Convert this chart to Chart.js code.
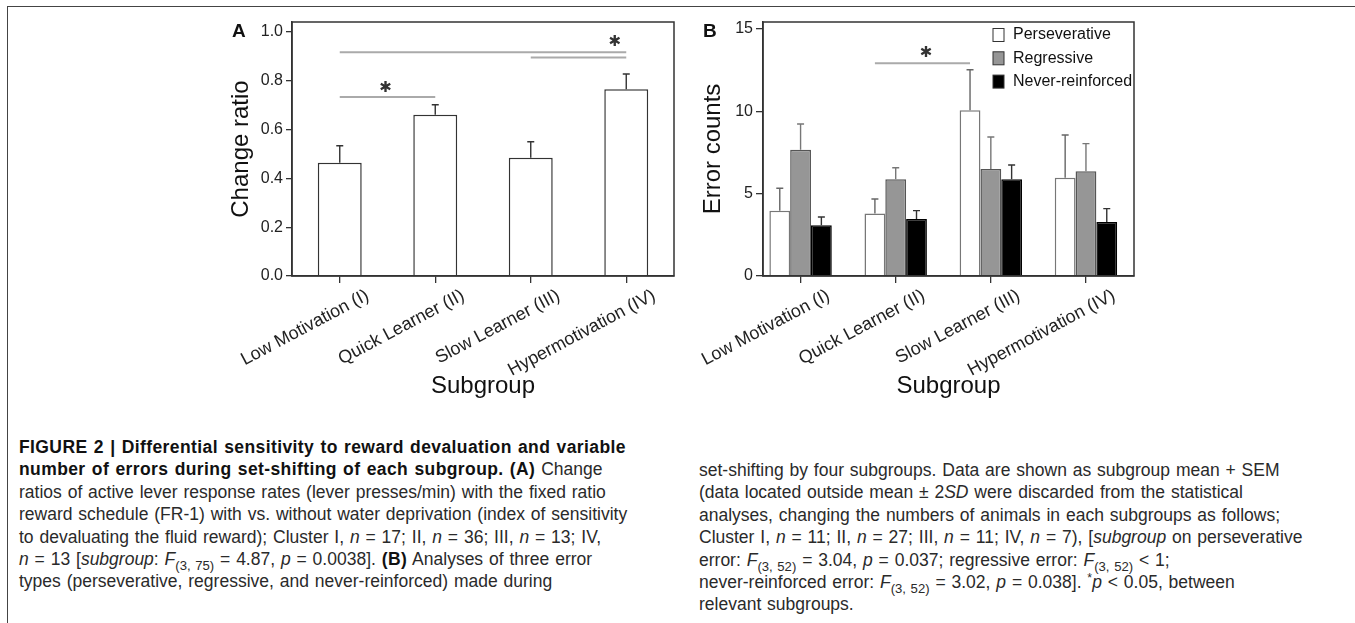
<!DOCTYPE html>
<html>
<head>
<meta charset="utf-8">
<script src="https://cdn.jsdelivr.net/npm/chart.js@4.4.1/dist/chart.umd.min.js"></script>
<style>
  body { margin: 0; background: #fff; width: 1355px; height: 623px; overflow: hidden; position: relative;
         font-family: "Liberation Sans", Arial, sans-serif; }
  .frame { position: absolute; left: 7px; top: 6px; right: 0; bottom: 0;
           border-top: 1.5px solid #444; border-left: 1.5px solid #444; }
  #chartA { position: absolute; left: 0; top: 0; }
  #chartB { position: absolute; left: 690px; top: 0; }
  .cap { position: absolute; font-size: 17.5px; line-height: 22.4px; word-spacing: 1px;
         color: #2a2a2a; white-space: nowrap; }
  .cap b { color: #111; letter-spacing: 0.4px; }
  sub { font-size: 0.75em; line-height: 0; vertical-align: -0.35em; }
  sup { font-size: 0.7em; line-height: 0; vertical-align: 0.5em; }
</style>
</head>
<body>
<div class="frame"></div>
<canvas id="chartA" width="690" height="430"></canvas>
<canvas id="chartB" width="665" height="430"></canvas>

<div class="cap" style="left:19px; top:436px;">
<b>FIGURE 2 | Differential sensitivity to reward devaluation and variable</b><br>
<b>number of errors during set-shifting of each subgroup. (A)</b> Change<br>
ratios of active lever response rates (lever presses/min) with the fixed ratio<br>
reward schedule (FR-1) with vs. without water deprivation (index of sensitivity<br>
to devaluating the fluid reward); Cluster I, <i>n</i> = 17; II, <i>n</i> = 36; III, <i>n</i> = 13; IV,<br>
<i>n</i> = 13 [<i>subgroup</i>: <i>F</i><sub>(3, 75)</sub> = 4.87, <i>p</i> = 0.0038]. <b>(B)</b> Analyses of three error<br>
types (perseverative, regressive, and never-reinforced) made during
</div>
<div class="cap" style="left:699px; top:459px;">
set-shifting by four subgroups. Data are shown as subgroup mean + SEM<br>
(data located outside mean ± 2<i>SD</i> were discarded from the statistical<br>
analyses, changing the numbers of animals in each subgroups as follows;<br>
Cluster I, <i>n</i> = 11; II, <i>n</i> = 27; III, <i>n</i> = 11; IV, <i>n</i> = 7), [<i>subgroup</i> on perseverative<br>
error: <i>F</i><sub>(3, 52)</sub> = 3.04, <i>p</i> = 0.037; regressive error: <i>F</i><sub>(3, 52)</sub> &lt; 1;<br>
never-reinforced error: <i>F</i><sub>(3, 52)</sub> = 3.02, <i>p</i> = 0.038]. <sup>*</sup><i>p</i> &lt; 0.05, between<br>
relevant subgroups.
</div>

<script>
  Chart.defaults.font.family = '"Liberation Sans", Arial, sans-serif';

  const groups = ['Low Motivation (I)', 'Quick Learner (II)', 'Slow Learner (III)', 'Hypermotivation (IV)'];

  // panel A: change ratio, mean + SEM
  const ratioMean = [0.464, 0.661, 0.485, 0.765];
  const ratioSem = [0.070, 0.041, 0.065, 0.063];
  const ratioTicks = [0, 0.2, 0.4, 0.6, 0.8, 1.0];

  // panel B: error counts, mean + SEM
  const perseverative = [3.97, 3.79, 10.07, 5.97];
  const perseverativeSem = [1.36, 0.89, 2.46, 2.60];
  const regressive = [7.67, 5.87, 6.50, 6.36];
  const regressiveSem = [1.56, 0.71, 1.94, 1.68];
  const neverReinforced = [3.08, 3.46, 5.87, 3.28];
  const neverReinforcedSem = [0.50, 0.51, 0.87, 0.81];
  const countTicks = [0, 5, 10, 15];

  // significance brackets: [from group, to group, height] and star marks [x, y]
  const sigLinesA = [[0, 1, 0.734], [0, 3, 0.917], [2, 3, 0.895]];
  const starsA = [[0.48, 0.77], [2.88, 0.96]];
  const sigLinesB = [[1, 2, 12.92]];
  const starsB = [[1.32, 13.53]];

  // ===== error bars (mean + SEM) =====
  const errorBars = {
    id: 'errorBars',
    afterDatasetsDraw(chart) {
      const ctx = chart.ctx, y = chart.scales.y;
      ctx.save();
      chart.data.datasets.forEach((ds, di) => {
        const meta = chart.getDatasetMeta(di);
        meta.data.forEach((bar, i) => {
          const v = meta.controller.getParsed(i).y;
          const top = y.getPixelForValue(v + ds.sem[i]);
          ctx.strokeStyle = ds.errColor;
          ctx.lineWidth = 1.4;
          ctx.beginPath();
          ctx.moveTo(bar.x, bar.y);
          ctx.lineTo(bar.x, top);
          ctx.moveTo(bar.x - 3.5, top);
          ctx.lineTo(bar.x + 3.5, top);
          ctx.stroke();
        });
      });
      ctx.restore();
    }
  };

  // ===== frame, brackets, stars, panel letter, legend =====
  function overlay(letter, lines, stars, withLegend) {
    return {
      id: 'overlay' + letter,
      afterDatasetsDraw(chart) {
        const { ctx, chartArea: a, scales: { x, y } } = chart;
        const bars = chart.getDatasetMeta(0).data;
        ctx.save();
        ctx.strokeStyle = '#333';
        ctx.lineWidth = 1.5;
        ctx.strokeRect(a.left, a.top, a.right - a.left, a.bottom - a.top);

        ctx.strokeStyle = '#aaa';
        ctx.lineWidth = 2;
        lines.forEach(([from, to, val]) => {
          const py = y.getPixelForValue(val);
          ctx.beginPath();
          ctx.moveTo(bars[from].x, py);
          ctx.lineTo(bars[to].x, py);
          ctx.stroke();
        });

        ctx.fillStyle = '#333';
        ctx.font = '15px "DejaVu Sans"';
        ctx.textAlign = 'center';
        ctx.textBaseline = 'middle';
        stars.forEach(([sx, sy]) => ctx.fillText('✱', x.getPixelForValue(sx), y.getPixelForValue(sy)));

        ctx.fillStyle = '#111';
        ctx.font = 'bold 19px "Liberation Sans"';
        ctx.textAlign = 'left';
        ctx.textBaseline = 'alphabetic';
        ctx.fillText(letter, a.left - 60, a.top + 15);

        if (withLegend) {
          ctx.font = '16px "Liberation Sans"';
          ctx.textBaseline = 'middle';
          chart.data.datasets.forEach((ds, i) => {
            const cy = a.top + 13 + i * 23.3;
            ctx.fillStyle = ds.backgroundColor;
            ctx.fillRect(a.right - 141, cy - 6.5, 11, 13);
            ctx.strokeStyle = '#333';
            ctx.lineWidth = 1;
            ctx.strokeRect(a.right - 141, cy - 6.5, 11, 13);
            ctx.fillStyle = '#111';
            ctx.fillText(ds.label, a.right - 121, cy);
          });
        }
        ctx.restore();
      }
    };
  }

  function xAxis(extra) {
    return Object.assign({
      offset: true,
      grid: { offset: false, drawOnChartArea: false, tickLength: 7, color: '#333', lineWidth: 1.3 },
      border: { color: '#333', width: 1.5 },
      ticks: { autoSkip: false, minRotation: 28, maxRotation: 28, labelOffset: 28, padding: 2,
               color: '#222', font: { size: 18 } },
      title: { display: true, text: 'Subgroup', color: '#111', font: { size: 24 }, padding: 0 },
      afterFit: s => { s.height = 125; s.paddingLeft = 0; s.paddingRight = 0; }
    }, extra);
  }

  function yAxis(max, tickVals, title, width, tickLen, fmt) {
    return {
      min: 0, max: max,
      afterBuildTicks: s => { s.ticks = tickVals.map(v => ({ value: v })); },
      grid: { drawOnChartArea: false, tickLength: tickLen, color: '#333', lineWidth: 1.3 },
      border: { color: '#333', width: 1.5 },
      ticks: { padding: 3, color: '#222', font: { size: 16 }, callback: fmt },
      title: { display: true, text: title, color: '#111', font: { size: 24 }, padding: 0 },
      afterFit: s => { s.width = width; s.paddingTop = 0; s.paddingBottom = 0; }
    };
  }

  // ===== A: change ratio =====
  new Chart(document.getElementById('chartA'), {
    type: 'bar',
    data: {
      labels: groups,
      datasets: [{
        label: 'Change ratio',
        data: ratioMean,
        sem: ratioSem,
        backgroundColor: '#ffffff',
        borderColor: '#333',
        borderWidth: 1.5,
        errColor: '#333'
      }]
    },
    options: {
      responsive: false,
      animation: false,
      layout: { padding: { left: 227, right: 16, top: 22, bottom: 29 } },
      datasets: { bar: { categoryPercentage: 1, barPercentage: 0.46 } },
      plugins: { legend: { display: false }, tooltip: { enabled: false } },
      scales: {
        x: xAxis({}),
        y: yAxis(1.041, ratioTicks, 'Change ratio', 65, 6, v => v.toFixed(1))
      }
    },
    plugins: [errorBars, overlay('A', sigLinesA, starsA, false)]
  });

  // ===== B: error counts =====
  const pts = arr => arr.map((v, i) => ({ x: i, y: v }));
  new Chart(document.getElementById('chartB'), {
    type: 'bar',
    data: {
      datasets: [
        { label: 'Perseverative', data: pts(perseverative), sem: perseverativeSem,
          backgroundColor: '#ffffff', borderColor: '#777', borderWidth: 1.5, errColor: '#666' },
        { label: 'Regressive', data: pts(regressive), sem: regressiveSem,
          backgroundColor: '#969696', borderColor: '#555', borderWidth: 1.5, errColor: '#777' },
        { label: 'Never-reinforced', data: pts(neverReinforced), sem: neverReinforcedSem,
          backgroundColor: '#000000', borderColor: '#000', borderWidth: 1.5, errColor: '#333' }
      ]
    },
    options: {
      responsive: false,
      animation: false,
      layout: { padding: { left: 9, right: 221, top: 22, bottom: 29 } },
      datasets: { bar: { categoryPercentage: 0.656, barPercentage: 1 } },
      plugins: { legend: { display: false }, tooltip: { enabled: false } },
      scales: {
        x: xAxis({
          type: 'linear', min: -0.395, max: 3.505, offset: false,
          afterBuildTicks: s => { s.ticks = groups.map((g, i) => ({ value: i })); },
          ticks: { autoSkip: false, minRotation: 28, maxRotation: 28, labelOffset: 28, padding: 2,
                   color: '#222', font: { size: 18 }, callback: v => groups[v] }
        }),
        y: yAxis(15.43, countTicks, 'Error counts', 64, 7, v => v)
      }
    },
    plugins: [errorBars, overlay('B', sigLinesB, starsB, true)]
  });
</script>
</body>
</html>
